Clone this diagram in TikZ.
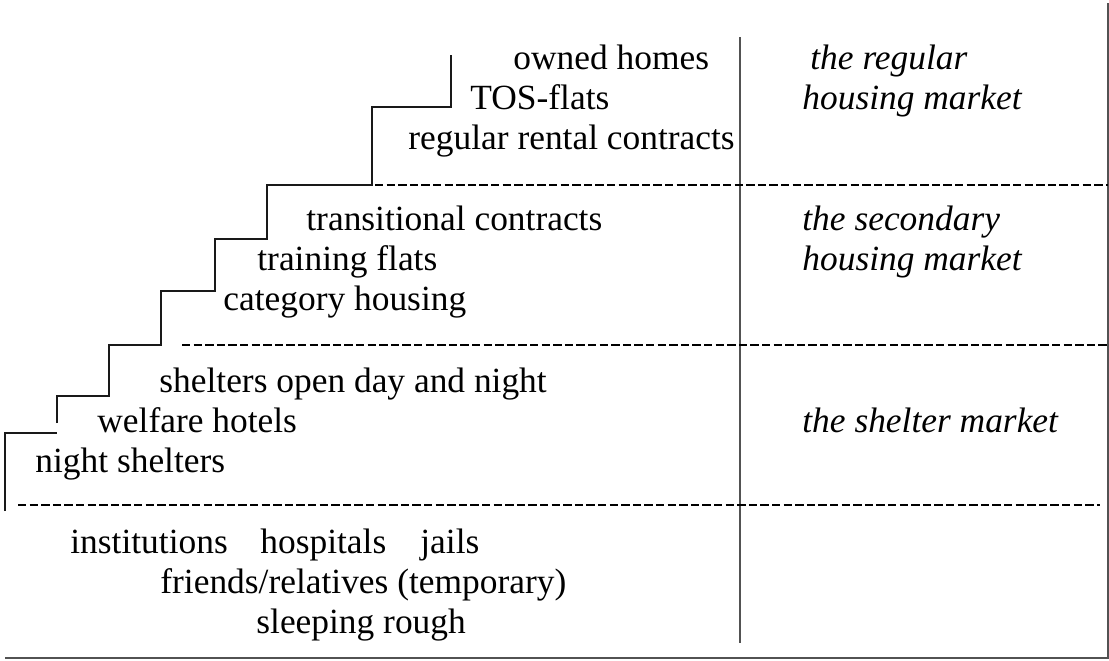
\documentclass[tikz,border=0pt]{standalone}
\usepackage{fontspec}
\setmainfont{Liberation Serif}
\begin{document}
\begin{tikzpicture}[x=0.5pt,y=-0.5pt,
  lbl/.style={anchor=base west,inner sep=0pt,font=\fontsize{17.7}{20}\selectfont},
  mkt/.style={lbl,font=\fontsize{17.7}{20}\selectfont\itshape},
  stair/.style={draw=black!90,line width=0.7pt,line join=miter},
  rule/.style={draw=black!68,line width=1pt},
  divider/.style={draw=black,line width=1.2pt,dash pattern=on 4.2pt off 1.6pt}]
\useasboundingbox (0,0) rectangle (1109,660);

% frame: right edge, bottom edge and the column separator
\draw[rule] (1108,3) -- (1108,658) -- (5,658);
\draw[rule] (740,37) -- (740,643);

% market boundaries
\draw[divider] (375,185) -- (1108,185);
\draw[divider] (182,345) -- (1108,345);
\draw[divider] (18,505) -- (1100,505);

% the staircase
\draw[stair] (5,511) -- (5,433) -- (57,433);
\draw[stair] (57,423) -- (57,396) -- (109,396) -- (109,345) -- (161,345)
  -- (161,291) -- (215,291) -- (215,239) -- (267,239) -- (267,185)
  -- (372,185) -- (372,107) -- (451,107) -- (451,55);

% regular housing market
\node[lbl] (owned) at (513,69) {owned homes};
\node[lbl] (tos) at (470,109) {TOS-flats};
\node[lbl] (rental) at (408,149) {regular rental contracts};
\node[mkt] (regA) at (810,69) {the regular};
\node[mkt] (regB) at (802,109) {housing market};

% secondary housing market
\node[lbl] (trans) at (306,230) {transitional contracts};
\node[lbl] (train) at (257,270) {training flats};
\node[lbl] (cat) at (223,310) {category housing};
\node[mkt] (secA) at (802,230) {the secondary};
\node[mkt] (secB) at (802,270) {housing market};

% shelter market
\node[lbl] (dayn) at (159,392) {shelters open day and night};
\node[lbl] (welf) at (97,432) {welfare hotels};
\node[lbl] (night) at (35,472) {night shelters};
\node[mkt] (shel) at (802,432) {the shelter market};

% below the shelter market
\node[lbl] (inst) at (70,553) {institutions};
\node[lbl] (hosp) at (260,553) {hospitals};
\node[lbl] (jail) at (420,553) {jails};
\node[lbl] (friends) at (160,593) {friends/relatives (temporary)};
\node[lbl] (rough) at (256,633) {sleeping rough};
\end{tikzpicture}
\end{document}
